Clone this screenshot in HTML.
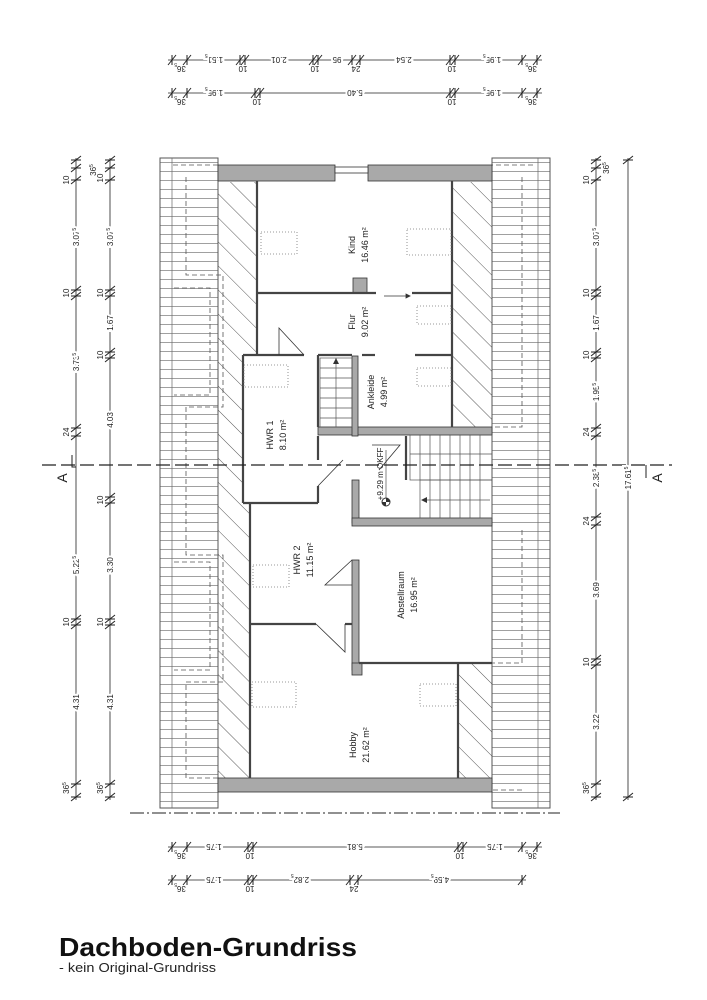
<!DOCTYPE html>
<html><head><meta charset="utf-8"><style>
html,body{margin:0;padding:0;background:#fff;}
svg{display:block;font-family:"Liberation Sans",sans-serif;}
.d{font-size:8px;fill:#222;}
.r{font-size:8px;fill:#222;}
</style></head><body>
<svg width="707" height="1000" viewBox="0 0 707 1000" xmlns="http://www.w3.org/2000/svg">
<defs>
<g id="tv" stroke="#222" stroke-width="1"><line x1="-5" y1="4" x2="5" y2="-4"/><line x1="-5" y1="0" x2="5" y2="0"/></g>
<g id="th" stroke="#222" stroke-width="1"><line x1="-4" y1="5" x2="4" y2="-5"/><line x1="0" y1="-5" x2="0" y2="5"/></g>
<pattern id="hatch" patternUnits="userSpaceOnUse" width="17" height="17" patternTransform="rotate(-45)">
<line x1="0" y1="0" x2="0" y2="17" stroke="#444" stroke-width="0.9"/></pattern>
<pattern id="roof" patternUnits="userSpaceOnUse" width="10" height="9">
<line x1="0" y1="0.5" x2="10" y2="0.5" stroke="#777" stroke-width="0.7"/></pattern>
</defs>
<rect width="707" height="1000" fill="#fff"/>

<rect x="160" y="158" width="58" height="650" fill="url(#roof)" stroke="#555" stroke-width="1"/>
<line x1="172" y1="158" x2="172" y2="808" stroke="#666" stroke-width="0.7"/>
<rect x="492" y="158" width="58" height="650" fill="url(#roof)" stroke="#555" stroke-width="1"/>
<line x1="538" y1="158" x2="538" y2="808" stroke="#666" stroke-width="0.7"/>
<g fill="none" stroke="#555" stroke-width="0.8" stroke-dasharray="5,3">
<path d="M173 165 H218 M186 177 V275 H223 V407 H186 V555 H223 V682 H186 V778 H218 M174 288 H210 V395 H174 M174 562 H210 V670 H174"/>
<path d="M533 165 H492 M522 177 V427 H492 M522 530 V663 H492 M522 790 H492"/>
</g>

<path d="M218 182 H257 V355 H243 V503 H250 V778 H218 Z" fill="url(#hatch)"/>
<rect x="452" y="182" width="40" height="245" fill="url(#hatch)"/>
<rect x="458" y="663" width="34" height="115" fill="url(#hatch)"/>

<g fill="#a9a9a9" stroke="#333" stroke-width="0.8">
<rect x="218" y="165" width="117" height="16"/>
<rect x="368" y="165" width="124" height="16"/>
<rect x="218" y="778" width="274" height="14"/>
<rect x="318" y="427" width="174" height="8"/>
<rect x="352" y="480" width="7" height="43"/>
<rect x="352" y="518" width="140" height="8"/>
<rect x="352" y="560" width="7" height="110"/>
<rect x="352" y="663" width="10" height="12"/>
<rect x="352" y="356" width="6" height="80"/>
<rect x="353" y="278" width="14" height="15"/>
</g>
<rect x="335" y="167" width="33" height="6" fill="#fff" stroke="#333" stroke-width="0.8"/>

<g stroke="#444" stroke-width="2.2" fill="none">
<line x1="257" y1="181" x2="257" y2="355"/>
<line x1="452" y1="181" x2="452" y2="427"/>
<line x1="257" y1="293" x2="376" y2="293"/>
<line x1="412" y1="293" x2="452" y2="293"/>
<line x1="243" y1="355" x2="304" y2="355"/>
<line x1="318" y1="355" x2="352" y2="355"/>
<line x1="362" y1="355" x2="375" y2="355"/>
<line x1="415" y1="355" x2="452" y2="355"/>
<line x1="243" y1="355" x2="243" y2="503"/>
<line x1="243" y1="503" x2="318" y2="503"/>
<line x1="318" y1="486" x2="318" y2="503"/>
<line x1="318" y1="355" x2="318" y2="427"/>
<line x1="250" y1="503" x2="250" y2="778"/>
<line x1="250" y1="624" x2="316" y2="624"/>
<line x1="345" y1="624" x2="352" y2="624"/>
<line x1="359" y1="663" x2="492" y2="663"/>
<line x1="458" y1="663" x2="458" y2="778"/>
<line x1="318" y1="436" x2="318" y2="460"/>
<line x1="406" y1="436" x2="406" y2="480"/>
</g>
<g stroke="#333" stroke-width="0.8" fill="none">
<path d="M304 355 L279 328 V355"/>
<path d="M318 486 L343 460"/>
<path d="M352 560 L325 585 H352"/>
<path d="M316 624 L345 652 V624"/>
<path d="M372 445 L400 445 L379 470"/>
<line x1="384" y1="296" x2="410" y2="296"/>
<path d="M410 296 l-4 -2 v4 z" fill="#333"/>
</g>

<g stroke="#555" stroke-width="0.7" fill="none">
<rect x="320" y="358" width="32" height="69"/>
<path d="M320 368H352M320 378H352M320 388H352M320 398H352M320 408H352M320 418H352"/>
<line x1="336" y1="358" x2="336" y2="427"/>
<rect x="410" y="435" width="82" height="45"/>
<path d="M420 435V480M430 435V480M440 435V480M450 435V480M460 435V480M470 435V480M480 435V480M410 454H492"/>
<rect x="420" y="480" width="72" height="38"/>
<path d="M430 480V518M440 480V518M450 480V518M460 480V518M470 480V518M480 480V518M423 500H490"/>
</g>
<path d="M336 358 l-3 6 h6 z M421 500 l6 -3 v6 z" fill="#333"/>
<circle cx="386" cy="502" r="4" fill="#fff" stroke="#333"/>
<path d="M386 498 A4 4 0 0 1 390 502 H386 Z M386 506 A4 4 0 0 1 382 502 H386 Z" fill="#333"/>
<line x1="386" y1="450" x2="386" y2="498" stroke="#333" stroke-width="0.6"/>
<text class="r" transform="translate(383,474) rotate(-90)" text-anchor="middle" font-size="7">+9.29 m OKFF</text>

<g fill="none" stroke="#777" stroke-width="0.8" stroke-dasharray="1,2">
<rect x="261" y="232" width="36" height="22"/><rect x="407" y="229" width="44" height="26"/>
<rect x="417" y="306" width="34" height="18"/><rect x="244" y="365" width="44" height="22"/>
<rect x="417" y="368" width="34" height="18"/><rect x="253" y="565" width="36" height="22"/>
<rect x="252" y="682" width="44" height="25"/><rect x="420" y="684" width="36" height="22"/>
</g>

<g font-size="9" fill="#222" text-anchor="middle">
<text transform="translate(355,245) rotate(-90)">Kind</text>
<text transform="translate(368,245) rotate(-90)">16.46 m²</text>
<text transform="translate(355,322) rotate(-90)">Flur</text>
<text transform="translate(368,322) rotate(-90)">9.02 m²</text>
<text transform="translate(374,392) rotate(-90)">Ankleide</text>
<text transform="translate(387,392) rotate(-90)">4.99 m²</text>
<text transform="translate(273,435) rotate(-90)">HWR 1</text>
<text transform="translate(286,435) rotate(-90)">8.10 m²</text>
<text transform="translate(300,560) rotate(-90)">HWR 2</text>
<text transform="translate(313,560) rotate(-90)">11.15 m²</text>
<text transform="translate(404,595) rotate(-90)">Abstellraum</text>
<text transform="translate(417,595) rotate(-90)">16.95 m²</text>
<text transform="translate(356,745) rotate(-90)">Hobby</text>
<text transform="translate(369,745) rotate(-90)">21.62 m²</text>
</g>

<line x1="42" y1="465" x2="672" y2="465" stroke="#222" stroke-width="1.2" stroke-dasharray="14,5"/>
<line x1="130" y1="813" x2="560" y2="813" stroke="#222" stroke-width="1" stroke-dasharray="14,3,2,3"/>
<path d="M72 455 V467 H76" stroke="#222" fill="none"/>
<text transform="translate(67,478) rotate(-90)" font-size="14" text-anchor="middle" fill="#222">A</text>
<path d="M646 465 V478" stroke="#222" fill="none"/>
<text transform="translate(662,478) rotate(-90)" font-size="14" text-anchor="middle" fill="#222">A</text>

<g stroke="#222" stroke-width="0.8">
<line x1="76" y1="158" x2="76" y2="800"/><line x1="110" y1="158" x2="110" y2="800"/>
<line x1="596" y1="158" x2="596" y2="800"/><line x1="628" y1="158" x2="628" y2="800"/>
</g>
<g>
<use href="#tv" x="76" y="160"/><use href="#tv" x="76" y="168"/><use href="#tv" x="76" y="180"/>
<use href="#tv" x="76" y="290"/><use href="#tv" x="76" y="296"/><use href="#tv" x="76" y="428"/><use href="#tv" x="76" y="436"/>
<use href="#tv" x="76" y="619"/><use href="#tv" x="76" y="625"/><use href="#tv" x="76" y="784"/><use href="#tv" x="76" y="797"/>
<use href="#tv" x="110" y="160"/><use href="#tv" x="110" y="168"/><use href="#tv" x="110" y="180"/>
<use href="#tv" x="110" y="290"/><use href="#tv" x="110" y="296"/><use href="#tv" x="110" y="352"/><use href="#tv" x="110" y="358"/>
<use href="#tv" x="110" y="497"/><use href="#tv" x="110" y="503"/><use href="#tv" x="110" y="619"/><use href="#tv" x="110" y="625"/>
<use href="#tv" x="110" y="784"/><use href="#tv" x="110" y="797"/>
<use href="#tv" x="596" y="160"/><use href="#tv" x="596" y="168"/><use href="#tv" x="596" y="180"/>
<use href="#tv" x="596" y="290"/><use href="#tv" x="596" y="296"/><use href="#tv" x="596" y="352"/><use href="#tv" x="596" y="358"/>
<use href="#tv" x="596" y="428"/><use href="#tv" x="596" y="436"/><use href="#tv" x="596" y="517"/><use href="#tv" x="596" y="525"/>
<use href="#tv" x="596" y="659"/><use href="#tv" x="596" y="665"/><use href="#tv" x="596" y="784"/><use href="#tv" x="596" y="797"/>
<use href="#tv" x="628" y="160"/><use href="#tv" x="628" y="797"/>
</g>
<g class="d" text-anchor="middle" font-size="8">
<text transform="translate(69,180) rotate(-90)">10</text>
<text transform="translate(79,237) rotate(-90)" style="paint-order:stroke" stroke="#fff" stroke-width="4">3.07<tspan font-size="5" dy="-3">5</tspan></text>
<text transform="translate(69,293) rotate(-90)">10</text>
<text transform="translate(79,362) rotate(-90)" style="paint-order:stroke" stroke="#fff" stroke-width="4">3.73<tspan font-size="5" dy="-3">5</tspan></text>
<text transform="translate(69,432) rotate(-90)">24</text>
<text transform="translate(79,565) rotate(-90)" style="paint-order:stroke" stroke="#fff" stroke-width="4">5.22<tspan font-size="5" dy="-3">5</tspan></text>
<text transform="translate(69,622) rotate(-90)">10</text>
<text transform="translate(79,702) rotate(-90)" style="paint-order:stroke" stroke="#fff" stroke-width="4">4.31</text>
<text transform="translate(69,788) rotate(-90)">36<tspan font-size="5" dy="-3">5</tspan></text>
<text transform="translate(103,178) rotate(-90)">10</text>
<text transform="translate(96,170) rotate(-90)">36<tspan font-size="5" dy="-3">5</tspan></text>
<text transform="translate(113,237) rotate(-90)" style="paint-order:stroke" stroke="#fff" stroke-width="4">3.07<tspan font-size="5" dy="-3">5</tspan></text>
<text transform="translate(103,293) rotate(-90)">10</text>
<text transform="translate(113,323) rotate(-90)" style="paint-order:stroke" stroke="#fff" stroke-width="4">1.67</text>
<text transform="translate(103,355) rotate(-90)">10</text>
<text transform="translate(113,420) rotate(-90)" style="paint-order:stroke" stroke="#fff" stroke-width="4">4.03</text>
<text transform="translate(103,500) rotate(-90)">10</text>
<text transform="translate(113,565) rotate(-90)" style="paint-order:stroke" stroke="#fff" stroke-width="4">3.30</text>
<text transform="translate(103,622) rotate(-90)">10</text>
<text transform="translate(113,702) rotate(-90)" style="paint-order:stroke" stroke="#fff" stroke-width="4">4.31</text>
<text transform="translate(103,788) rotate(-90)">36<tspan font-size="5" dy="-3">5</tspan></text>
<text transform="translate(589,180) rotate(-90)">10</text>
<text transform="translate(609,168) rotate(-90)">36<tspan font-size="5" dy="-3">5</tspan></text>
<text transform="translate(599,237) rotate(-90)" style="paint-order:stroke" stroke="#fff" stroke-width="4">3.07<tspan font-size="5" dy="-3">5</tspan></text>
<text transform="translate(589,293) rotate(-90)">10</text>
<text transform="translate(599,323) rotate(-90)" style="paint-order:stroke" stroke="#fff" stroke-width="4">1.67</text>
<text transform="translate(589,355) rotate(-90)">10</text>
<text transform="translate(599,392) rotate(-90)" style="paint-order:stroke" stroke="#fff" stroke-width="4">1.95<tspan font-size="5" dy="-3">5</tspan></text>
<text transform="translate(589,432) rotate(-90)">24</text>
<text transform="translate(599,478) rotate(-90)" style="paint-order:stroke" stroke="#fff" stroke-width="4">2.38<tspan font-size="5" dy="-3">5</tspan></text>
<text transform="translate(589,521) rotate(-90)">24</text>
<text transform="translate(599,590) rotate(-90)" style="paint-order:stroke" stroke="#fff" stroke-width="4">3.69</text>
<text transform="translate(589,662) rotate(-90)">10</text>
<text transform="translate(599,722) rotate(-90)" style="paint-order:stroke" stroke="#fff" stroke-width="4">3.22</text>
<text transform="translate(589,788) rotate(-90)">36<tspan font-size="5" dy="-3">5</tspan></text>
<text transform="translate(631,478) rotate(-90)" style="paint-order:stroke" stroke="#fff" stroke-width="4">17.61<tspan font-size="5" dy="-3">5</tspan></text>
</g>

<g stroke="#222" stroke-width="0.8">
<line x1="168" y1="60" x2="542" y2="60"/><line x1="168" y1="93" x2="542" y2="93"/>
<line x1="168" y1="847" x2="542" y2="847"/><line x1="168" y1="880" x2="526" y2="880"/>
</g>
<use href="#th" x="172" y="60"/><use href="#th" x="187" y="60"/><use href="#th" x="240" y="60"/><use href="#th" x="245" y="60"/>
<use href="#th" x="313" y="60"/><use href="#th" x="318" y="60"/><use href="#th" x="352" y="60"/><use href="#th" x="360" y="60"/>
<use href="#th" x="450" y="60"/><use href="#th" x="455" y="60"/><use href="#th" x="522" y="60"/><use href="#th" x="537" y="60"/>
<use href="#th" x="172" y="93"/><use href="#th" x="187" y="93"/><use href="#th" x="255" y="93"/><use href="#th" x="260" y="93"/>
<use href="#th" x="450" y="93"/><use href="#th" x="455" y="93"/><use href="#th" x="522" y="93"/><use href="#th" x="537" y="93"/>
<use href="#th" x="172" y="847"/><use href="#th" x="187" y="847"/><use href="#th" x="248" y="847"/><use href="#th" x="253" y="847"/>
<use href="#th" x="458" y="847"/><use href="#th" x="463" y="847"/><use href="#th" x="522" y="847"/><use href="#th" x="537" y="847"/>
<use href="#th" x="172" y="880"/><use href="#th" x="187" y="880"/><use href="#th" x="248" y="880"/><use href="#th" x="253" y="880"/>
<use href="#th" x="350" y="880"/><use href="#th" x="358" y="880"/><use href="#th" x="522" y="880"/>

<g class="d" text-anchor="middle" font-size="8">
<g style="paint-order:stroke" stroke="#fff" stroke-width="4">
<text transform="translate(214,57) rotate(180)">1.51<tspan font-size="5" dy="3">5</tspan></text>
<text transform="translate(279,57) rotate(180)">2.01</text>
<text transform="translate(337,57) rotate(180)">95</text>
<text transform="translate(404,57) rotate(180)">2.54</text>
<text transform="translate(492,57) rotate(180)">1.95<tspan font-size="5" dy="3">5</tspan></text>
<text transform="translate(214,90) rotate(180)">1.95<tspan font-size="5" dy="3">5</tspan></text>
<text transform="translate(355,90) rotate(180)">5.40</text>
<text transform="translate(492,90) rotate(180)">1.95<tspan font-size="5" dy="3">5</tspan></text>
<text transform="translate(214,844) rotate(180)">1.75</text>
<text transform="translate(355,844) rotate(180)">5.81</text>
<text transform="translate(495,844) rotate(180)">1.75</text>
<text transform="translate(214,877) rotate(180)">1.75</text>
<text transform="translate(300,877) rotate(180)">2.82<tspan font-size="5" dy="3">5</tspan></text>
<text transform="translate(440,877) rotate(180)">4.59<tspan font-size="5" dy="3">5</tspan></text>
</g>
<text transform="translate(180,66) rotate(180)">36<tspan font-size="5" dy="3">5</tspan></text>
<text transform="translate(243,66) rotate(180)">10</text>
<text transform="translate(315,66) rotate(180)">10</text>
<text transform="translate(356,66) rotate(180)">24</text>
<text transform="translate(452,66) rotate(180)">10</text>
<text transform="translate(531,66) rotate(180)">36<tspan font-size="5" dy="3">5</tspan></text>
<text transform="translate(180,99) rotate(180)">36<tspan font-size="5" dy="3">5</tspan></text>
<text transform="translate(257,99) rotate(180)">10</text>
<text transform="translate(452,99) rotate(180)">10</text>
<text transform="translate(531,99) rotate(180)">36<tspan font-size="5" dy="3">5</tspan></text>
<text transform="translate(180,853) rotate(180)">36<tspan font-size="5" dy="3">5</tspan></text>
<text transform="translate(250,853) rotate(180)">10</text>
<text transform="translate(460,853) rotate(180)">10</text>
<text transform="translate(531,853) rotate(180)">36<tspan font-size="5" dy="3">5</tspan></text>
<text transform="translate(180,886) rotate(180)">36<tspan font-size="5" dy="3">5</tspan></text>
<text transform="translate(250,886) rotate(180)">10</text>
<text transform="translate(354,886) rotate(180)">24</text>
</g>

<text x="59" y="956" font-size="26" font-weight="bold" fill="#111" textLength="298" lengthAdjust="spacingAndGlyphs">Dachboden-Grundriss</text>
<text x="59" y="972" font-size="12.5" fill="#222" textLength="157" lengthAdjust="spacingAndGlyphs">- kein Original-Grundriss</text>
</svg>
</body></html>
